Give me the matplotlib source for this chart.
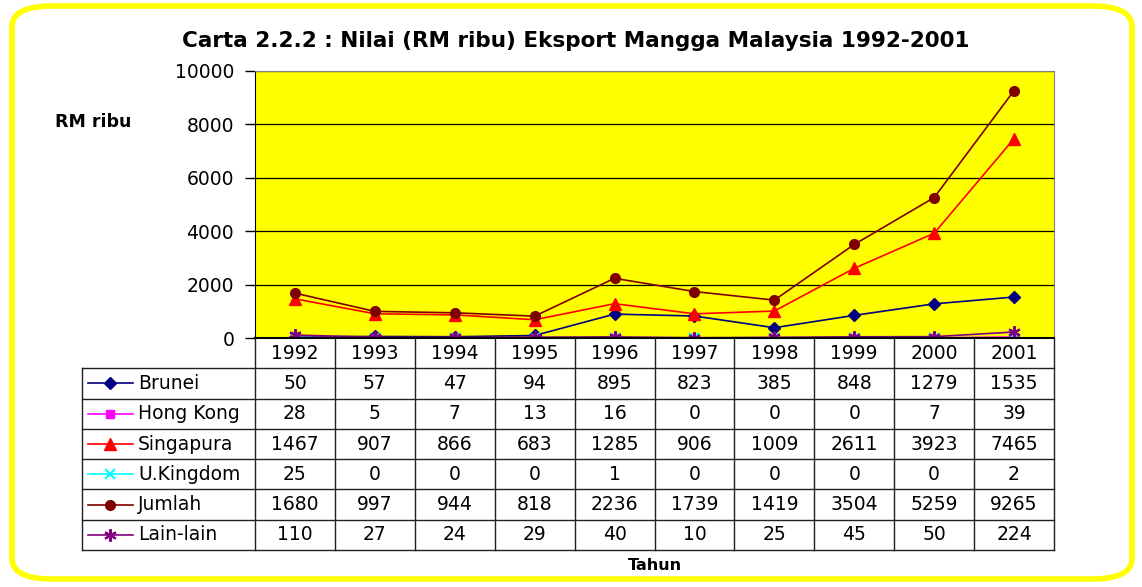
import matplotlib.pyplot as plt
from matplotlib.patches import FancyBboxPatch
from matplotlib.lines import Line2D

plt.rcParams['font.family'] = ['DejaVu Sans']

years = ["1992", "1993", "1994", "1995", "1996", "1997", "1998", "1999", "2000", "2001"]
brunei = [50, 57, 47, 94, 895, 823, 385, 848, 1279, 1535]
hong_kong = [28, 5, 7, 13, 16, 0, 0, 0, 7, 39]
singapura = [1467, 907, 866, 683, 1285, 906, 1009, 2611, 3923, 7465]
uk = [25, 0, 0, 0, 1, 0, 0, 0, 0, 2]
jumlah = [1680, 997, 944, 818, 2236, 1739, 1419, 3504, 5259, 9265]
lain_lain = [110, 27, 24, 29, 40, 10, 25, 45, 50, 224]

series = [
    ("Brunei", brunei, "#000080", "D", 6),
    ("Hong Kong", hong_kong, "#ff00ff", "s", 6),
    ("Singapura", singapura, "#ff0000", "^", 8),
    ("U.Kingdom", uk, "#00ffff", "x", 7),
    ("Jumlah", jumlah, "#800000", "o", 7),
    ("Lain-lain", lain_lain, "#800080", (6, 2, 0), 9),
]

W, H = 1142, 587
fig = plt.figure(figsize=(W / 100, H / 100), dpi=100)

# outer rounded yellow frame
frame = FancyBboxPatch((12 / W, 8 / H), (W - 22) / W, (H - 14) / H,
                       boxstyle="round,pad=0,rounding_size=0.035",
                       transform=fig.transFigure, fill=False,
                       edgecolor="#ffff00", linewidth=4)
fig.patches.append(frame)

L, R = 255, 1054
ax = fig.add_axes([L / W, 1 - 338 / H, (R - L) / W, (338 - 71) / H])
ax.set_facecolor("#ffff00")
x = list(range(len(years)))
for name, vals, col, mk, ms in series:
    ax.plot(x, vals, color=col, marker=mk, markersize=ms, linewidth=1.2,
            markeredgecolor=col, markeredgewidth=1.5 if mk in ("x", (6, 2, 0)) else 1)
ax.set_xlim(-0.5, len(years) - 0.5)
ax.set_ylim(0, 10000)
ax.set_yticks(range(0, 10001, 2000))
ax.yaxis.grid(True, color="black", linewidth=0.9)
ax.set_axisbelow(True)
ax.set_xticks([])
ax.tick_params(axis="y", labelsize=13.5, length=7, width=1, pad=8, direction="out")
for s in ("top", "right"):
    ax.spines[s].set_color("#808080")
ax.spines["left"].set_color("black")
ax.spines["bottom"].set_linewidth(1.5)

fig.text(576 / W, 1 - 41 / H, "Carta 2.2.2 : Nilai (RM ribu) Eksport Mangga Malaysia 1992-2001",
         ha="center", va="center", fontsize=15.5, fontweight="bold")
fig.text(93 / W, 1 - 122 / H, "RM ribu", ha="center", va="center", fontsize=12.5, fontweight="bold")
fig.text(655 / W, 1 - 566 / H, "Tahun", ha="center", va="center", fontsize=11.5, fontweight="bold")

# data table below the plot
tb = fig.add_axes([L / W, 1 - 550 / H, (R - L) / W, (550 - 338) / H])
tb.set_xlim(-0.5, len(years) - 0.5)
tb.set_ylim(7, 0)
tb.axis("off")
unit = (R - L) / len(years)
x_left = -0.5 - (L - 82) / unit
lc = "#202020"
kw = dict(color=lc, linewidth=1, clip_on=False)
# horizontal lines
for r in range(1, 8):
    tb.plot([x_left, len(years) - 0.5], [r, r], **kw)
# vertical lines
for c in range(len(years) + 1):
    tb.plot([c - 0.5, c - 0.5], [0, 7], **kw)
tb.plot([x_left, x_left], [1, 7], **kw)

for i, yr in enumerate(years):
    tb.text(i, 0.5, yr, ha="center", va="center", fontsize=13.5)

glyph_x0 = x_left + 6 / unit
glyph_x1 = x_left + 51 / unit
for r, (name, vals, col, mk, ms) in enumerate(series, start=1):
    tb.add_line(Line2D([glyph_x0, glyph_x1], [r + 0.5, r + 0.5], color=col, linewidth=1.2,
                       clip_on=False))
    tb.add_line(Line2D([(glyph_x0 + glyph_x1) / 2], [r + 0.5], color=col, marker=mk,
                       markersize=ms, markeredgecolor=col, clip_on=False,
                       markeredgewidth=1.5 if mk in ("x", (6, 2, 0)) else 1))
    tb.text(x_left + 56 / unit, r + 0.5, name, ha="left", va="center", fontsize=13.5)
    for i, v in enumerate(vals):
        tb.text(i, r + 0.5, str(v), ha="center", va="center", fontsize=13.5)

fig.savefig("out.png", dpi=100)
